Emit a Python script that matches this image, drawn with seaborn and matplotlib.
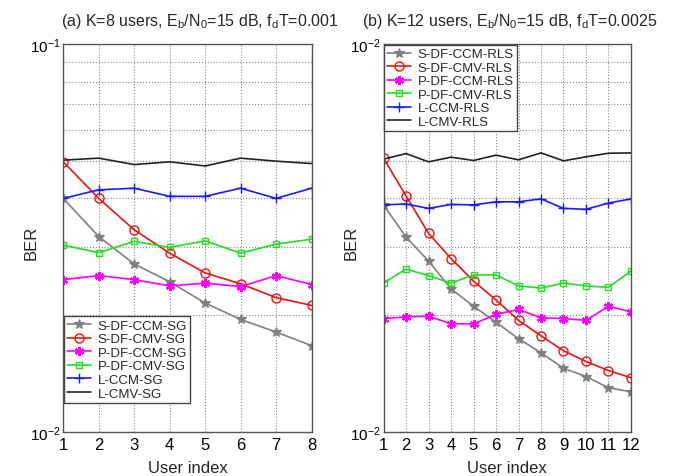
import numpy as np
import pandas as pd
import matplotlib
matplotlib.use("Agg")
import matplotlib.pyplot as plt
import matplotlib.ticker as mticker
import seaborn as sns

# ---- data ----
users_a = [1, 2, 3, 4, 5, 6, 7, 8]
s_df_ccm_sg = [0.0400, 0.0319, 0.0271, 0.0244, 0.0215, 0.0195, 0.0181, 0.0167]
s_df_cmv_sg = [0.0497, 0.0400, 0.0332, 0.0289, 0.0257, 0.0241, 0.0222, 0.0212]
p_df_ccm_sg = [0.0247, 0.0253, 0.0247, 0.0238, 0.0242, 0.0237, 0.0253, 0.0240]
p_df_cmv_sg = [0.0303, 0.0290, 0.0310, 0.0299, 0.0311, 0.0289, 0.0305, 0.0314]
l_ccm_sg = [0.0400, 0.0421, 0.0425, 0.0405, 0.0405, 0.0425, 0.0400, 0.0425]
l_cmv_sg = [0.0502, 0.0508, 0.0489, 0.0497, 0.0485, 0.0508, 0.0499, 0.0492]

users_b = [1, 2, 3, 4, 5, 6, 7, 8, 9, 10, 11, 12]
s_df_ccm_rls = [0.00385, 0.00318, 0.00276, 0.00234, 0.00211, 0.00192,
                0.00174, 0.00160, 0.00146, 0.00139, 0.00130, 0.00127]
s_df_cmv_rls = [0.00508, 0.00406, 0.00325, 0.00280, 0.00245, 0.00219,
                0.00194, 0.00177, 0.00162, 0.00152, 0.00144, 0.00138]
p_df_ccm_rls = [0.00196, 0.00198, 0.00199, 0.00190, 0.00190, 0.00201,
                0.00207, 0.00197, 0.00196, 0.00194, 0.00211, 0.00204]
p_df_cmv_rls = [0.00242, 0.00263, 0.00253, 0.00242, 0.00254, 0.00254,
                0.00238, 0.00235, 0.00242, 0.00238, 0.00236, 0.00260]
l_ccm_rls = [0.00385, 0.00387, 0.00377, 0.00386, 0.00385, 0.00392,
             0.00392, 0.00399, 0.00377, 0.00375, 0.00389, 0.00399]
l_cmv_rls = [0.00505, 0.00522, 0.00497, 0.00511, 0.00501, 0.00517,
             0.00503, 0.00524, 0.00500, 0.00512, 0.00523, 0.00524]

labels_a = ["S-DF-CCM-SG", "S-DF-CMV-SG", "P-DF-CCM-SG",
            "P-DF-CMV-SG", "L-CCM-SG", "L-CMV-SG"]
labels_b = ["S-DF-CCM-RLS", "S-DF-CMV-RLS", "P-DF-CCM-RLS",
            "P-DF-CMV-RLS", "L-CCM-RLS", "L-CMV-RLS"]

# style per series (same order as labels)
styles = [
    dict(color="#808080", marker="*", ms=7.5, mfc="#808080", mew=0.8),
    dict(color="#ee1111", marker="o", ms=6.5, mfc="none", mew=1.0),
    dict(color="#ff00ff", marker=(6, 2, 0), ms=6.5, mfc="#ff00ff", mew=1.6),
    dict(color="#22dd22", marker="s", ms=5, mfc="none", mew=1.0),
    dict(color="#1a1aff", marker="+", ms=7.5, mfc="#1a1aff", mew=1.0),
    dict(color="#222222", marker="", ms=0, mfc="#222222", mew=0),
]

sns.set_style("white")
plt.rcParams["font.family"] = ["Liberation Sans", "DejaVu Sans"]
plt.rcParams["mathtext.fontset"] = "custom"
plt.rcParams["mathtext.rm"] = "Liberation Sans"
plt.rcParams["mathtext.it"] = "Liberation Sans:italic"

fig = plt.figure(figsize=(6.84, 4.77), dpi=100)
ax1 = fig.add_axes([0.0925, 0.0922, 0.363, 0.8134])
ax2 = fig.add_axes([0.5607, 0.0922, 0.3618, 0.8134])


def draw(ax, x, series, labels, ylo, yhi, ylabels, title, title_x, legend_anchor):
    for vals, lab, st in zip(series, labels, styles):
        sns.lineplot(x=x, y=vals, ax=ax, label=lab, color=st["color"],
                     linestyle="-", dashes=False, marker=st["marker"],
                     markersize=st["ms"], markerfacecolor=st["mfc"],
                     markeredgecolor=st["color"], markeredgewidth=st["mew"],
                     linewidth=1.2)
    ax.set_yscale("log")
    ax.set_xlim(x[0], x[-1])
    ax.set_ylim(ylo, yhi)
    ax.set_xticks(x)
    ax.set_yticks([ylo, yhi])
    ax.set_yticklabels(ylabels)
    ax.yaxis.set_minor_locator(mticker.LogLocator(base=10, subs=np.arange(2, 10)))
    ax.yaxis.set_minor_formatter(mticker.NullFormatter())
    ax.tick_params(axis="both", which="major", direction="in", length=4,
                   labelsize=12, colors="#444444", labelcolor="black")
    ax.tick_params(axis="y", which="major", labelsize=11, pad=2)
    ax.tick_params(axis="y", which="minor", direction="in", length=0)
    ax.grid(True, which="major", axis="x", linestyle=":", color="#888888", linewidth=0.8)
    ax.grid(True, which="minor", axis="y", linestyle=":", color="#888888", linewidth=0.8)
    for sp in ax.spines.values():
        sp.set_color("#555555")
        sp.set_linewidth(1.0)
    ax.set_xlabel("User index", fontsize=12, labelpad=6)
    ax.set_ylabel("BER", fontsize=12)
    ax.yaxis.set_label_coords(-0.10, 0.49)
    ax.set_title(title, fontsize=11.5, pad=14, x=title_x)
    leg = ax.legend(loc="upper left", bbox_to_anchor=legend_anchor, fontsize=9.5,
                    frameon=True, fancybox=False, framealpha=1,
                    edgecolor="#444444", handlelength=1.8, borderpad=0.25,
                    labelspacing=0.1, handletextpad=0.5, borderaxespad=0.05)
    leg.get_frame().set_linewidth(1.0)


draw(ax1, users_a,
     [s_df_ccm_sg, s_df_cmv_sg, p_df_ccm_sg, p_df_cmv_sg, l_ccm_sg, l_cmv_sg],
     labels_a, 1e-2, 1e-1, ["$10^{-2}$", "$10^{-1}$"],
     r"(a) K=8 users, E$_{\rm b}$/N$_{\rm 0}$=15 dB, f$_{\rm d}$T=0.001",
     0.55, (0.0, 0.30))
draw(ax2, users_b,
     [s_df_ccm_rls, s_df_cmv_rls, p_df_ccm_rls, p_df_cmv_rls, l_ccm_rls, l_cmv_rls],
     labels_b, 1e-3, 1e-2, ["$10^{-2}$", "$10^{-2}$"],
     r"(b) K=12 users, E$_{\rm b}$/N$_{\rm 0}$=15 dB, f$_{\rm d}$T=0.0025",
     0.51, (0.0, 1.0))

fig.savefig("out.png", dpi=100)
